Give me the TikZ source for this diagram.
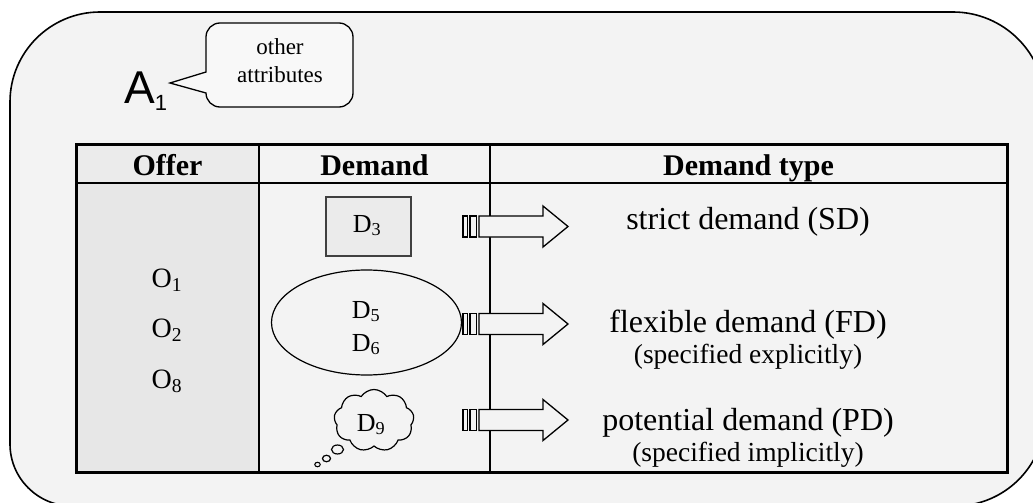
\documentclass[tikz,border=0pt]{standalone}
\usepackage{fontspec}
\setmainfont{Liberation Serif}
\newfontfamily\sansA{Liberation Sans}
\usetikzlibrary{shapes.symbols,shapes.geometric}
\definecolor{bgc}{HTML}{F3F3F3}
\definecolor{offc}{HTML}{E7E7E7}
\definecolor{offh}{HTML}{EBEBEB}
\definecolor{rectc}{HTML}{EBEBEB}
\newcommand\fs[1]{\fontsize{#1}{#1}\selectfont}
\begin{document}
\begin{tikzpicture}[x=1pt,y=-1pt,
  txt/.style={inner sep=0pt, anchor=base},
  hdr/.style={txt, font=\fs{30}\bfseries},
  big/.style={txt, font=\fs{32}},
  sml/.style={txt, font=\fs{27.5}},
  itm/.style={txt, font=\fs{28}},
  dlab/.style={txt, font=\fs{26}},
  note/.style={txt, font=\fs{23}},
  abar/.style={line width=1.3pt, fill=bgc, line join=miter},
  barrow/.pic={
    \draw[abar] (0,-10.5) rectangle (4.5,10.5);
    \draw[abar] (7,-10.5) rectangle (13.5,10.5);
    \draw[abar] (16,-10.5) -- (80,-10.5) -- (80,-20.5) -- (105,0) -- (80,20.5) -- (80,10.5) -- (16,10.5) -- cycle;
  }
]
\clip (0,0) rectangle (1033,503);
\fill[white] (0,0) rectangle (1033,503);
% outer rounded frame
\draw[line width=1.6pt, fill=bgc]
  (10,444) -- (10,102) .. controls (10,52.3) and (50.3,12) .. (100,12)
  -- (953,12) .. controls (1003.8,12) and (1045,53.2) .. (1045,104)
  -- (1045,416) .. controls (1045,465.7) and (1004.7,506) .. (955,506)
  -- (72,506) .. controls (37.8,506) and (10,478.2) .. (10,444) -- cycle;
% callout
\draw[line width=1.3pt, fill=bgc!60!white, line join=miter]
  (206,72) -- (206,37) .. controls (206,29.3) and (212.3,23) .. (220,23)
  -- (339,23) .. controls (346.7,23) and (353,29.3) .. (353,37)
  -- (353,93) .. controls (353,100.7) and (346.7,107) .. (339,107)
  -- (220,107) .. controls (212.3,107) and (206,100.7) .. (206,93)
  -- (170,83) -- cycle;
\node[note] (oth1) at (280,55) {other};
\node[note] (oth2) at (280,82) {attributes};
\node[txt, anchor=base west] (A1) at (124,103) {\sansA\fs{46}A\raisebox{-7pt}{\fs{22}1}};
% table
\fill[offh] (76,144) rectangle (259,183);
\fill[offc] (76,183) rectangle (259,472);
\draw[line width=1.5pt] (76,183) -- (1007,183);
\draw[line width=1.5pt] (259,144) -- (259,472);
\draw[line width=1.3pt] (490,144) -- (490,472);
\draw[line width=3pt] (76,144) rectangle (1007,472);
\node[hdr] (hOffer) at (167.5,175) {Offer};
\node[hdr] (hDem) at (374.5,175) {Demand};
\node[hdr] (hType) at (748.5,175) {Demand type};
\node[itm] (o1) at (167,287) {O\textsubscript{1}};
\node[itm] (o2) at (167,337) {O\textsubscript{2}};
\node[itm] (o8) at (167,388) {O\textsubscript{8}};
% demand shapes
\node[draw=black!75, line width=1.2pt, fill=rectc, minimum width=85pt, minimum height=59pt, inner sep=0pt] (r3) at (368.5,226.5) {};
\node[dlab] (d3) at (367,232) {D\textsubscript{3}};
\node[ellipse, draw, line width=1.2pt, minimum width=190pt, minimum height=105pt, inner sep=0pt] (el) at (366.5,322.5) {};
\node[dlab] (d5) at (366,318) {D\textsubscript{5}};
\node[dlab] (d6) at (366,351) {D\textsubscript{6}};
\node[cloud, draw, line width=1.2pt, cloud puffs=9, cloud puff arc=115, cloud ignores aspect, minimum width=80pt, minimum height=62pt, inner sep=0pt, fill=bgc] (cld) at (374,420.5) {};
\node[dlab] (d9) at (371,431) {D\textsubscript{9}};
\node[ellipse, draw, line width=1.2pt, minimum width=12pt, minimum height=9pt, inner sep=0pt] (b1) at (337.5,449.5) {};
\node[ellipse, draw, line width=1.2pt, minimum width=8pt, minimum height=6.5pt, inner sep=0pt] (b2) at (326.5,458.5) {};
\node[ellipse, draw, line width=1.1pt, minimum width=5.5pt, minimum height=4.5pt, inner sep=0pt] (b3) at (317.5,464.5) {};
% arrows
\pic (ar1) at (463,226.5) {barrow};
\pic (ar2) at (463,324) {barrow};
\pic (ar3) at (463,420) {barrow};
% type labels
\node[big] (sd) at (748,229) {strict demand (SD)};
\node[big] (fd) at (748,332) {flexible demand (FD)};
\node[sml] (fd2) at (748,363) {(specified explicitly)};
\node[big] (pd) at (748,430) {potential demand (PD)};
\node[sml] (pd2) at (748,461) {(specified implicitly)};
\end{tikzpicture}
\end{document}
